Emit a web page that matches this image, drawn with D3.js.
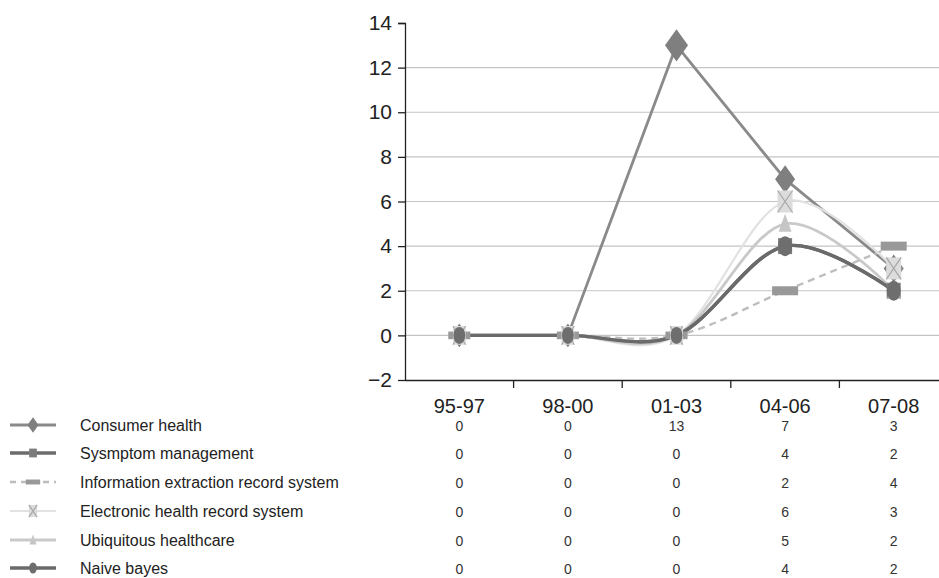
<!DOCTYPE html>
<html><head><meta charset="utf-8">
<script src="https://cdn.jsdelivr.net/npm/d3@7"></script>
<style>body{margin:0;background:#fff}svg{display:block}text{font-family:"Liberation Sans",Arial,sans-serif}</style>
</head><body>
<svg id="c" width="939" height="578"></svg>
<script>
const categories = ["95-97","98-00","01-03","04-06","07-08"];
const seriesNames = ["Consumer health","Sysmptom management","Information extraction record system","Electronic health record system","Ubiquitous healthcare","Naive bayes"];
const consumerHealth = [0,0,13,7,3];
const symptomManagement = [0,0,0,4,2];
const infoExtraction = [0,0,0,2,4];
const electronicHealth = [0,0,0,6,3];
const ubiquitousHealthcare = [0,0,0,5,2];
const naiveBayes = [0,0,0,4,2];
const yTicks = [-2,0,2,4,6,8,10,12,14];

const seriesValues = [consumerHealth,symptomManagement,infoExtraction,electronicHealth,ubiquitousHealthcare,naiveBayes];
const styles = [
  {color:"#8a8a8a", width:2.8, dash:null, curve:d3.curveLinear, marker:"diamond", mfill:"#7f7f7f"},
  {color:"#6c6c6c", width:3.4, dash:null, curve:d3.curveCatmullRom.alpha(0), marker:"square", mfill:"#7c7c7c"},
  {color:"#bdbdbd", width:2.4, dash:"7,5", curve:d3.curveCatmullRom.alpha(0), marker:"rect", mfill:"#999"},
  {color:"#e2e2e2", width:2.2, dash:null, curve:d3.curveCatmullRom.alpha(0), marker:"xbox", mfill:"#dcdcdc"},
  {color:"#c9c9c9", width:2.8, dash:null, curve:d3.curveCatmullRom.alpha(0), marker:"triangle", mfill:"#c6c6c6"},
  {color:"#6a6a6a", width:3.4, dash:null, curve:d3.curveCatmullRom.alpha(0), marker:"circle", mfill:"#6e6e6e"}
];

const svg = d3.select("#c");
const x = d3.scaleBand().domain(categories).range([405, 948]);
const y = d3.scaleLinear().domain([-2,14]).range([380, 23]);

// gridlines
svg.append("g").selectAll("line").data(yTicks.filter(t=>t>-2 && t<14)).join("line")
  .attr("x1",405).attr("x2",939).attr("y1",d=>y(d)).attr("y2",d=>y(d))
  .attr("stroke","#c4c4c4").attr("stroke-width",1.2);

// y axis
const ya = svg.append("g").attr("transform","translate(405,0)")
  .call(d3.axisLeft(y).tickValues(yTicks).tickSize(7).tickPadding(6).tickFormat(d=>d<0?"\u2212"+Math.abs(d):d));
ya.select(".domain").attr("stroke","#222").attr("stroke-width",1.3).attr("d","M-7,23.5H0.5V380.5");
ya.selectAll(".tick line").attr("stroke","#222").attr("stroke-width",1.3);
ya.selectAll(".tick text").attr("font-size",21).attr("fill","#222").attr("font-family","Liberation Sans, Arial, sans-serif");

// x axis
const xa = svg.append("g").attr("transform","translate(0,380)");
xa.append("line").attr("x1",405).attr("x2",939).attr("y1",0.5).attr("y2",0.5).attr("stroke","#222").attr("stroke-width",1.3);
xa.selectAll("line.t").data(categories.slice(1)).join("line").attr("class","t")
  .attr("x1",d=>x(d)).attr("x2",d=>x(d)).attr("y1",0).attr("y2",8).attr("stroke","#222").attr("stroke-width",1.3);
xa.selectAll("text").data(categories).join("text")
  .attr("x",d=>x(d)+x.bandwidth()/2).attr("y",33).attr("text-anchor","middle")
  .attr("font-size",20).attr("fill","#222").text(d=>d);

function drawMarker(g, type, cx, cy, s, st){
  const k = s;
  if(type==="diamond"){
    g.append("path").attr("d",`M${cx},${cy-14*k}L${cx+10*k},${cy}L${cx},${cy+14*k}L${cx-10*k},${cy}Z`).attr("fill",st.mfill);
  } else if(type==="square"){
    g.append("rect").attr("x",cx-7*k).attr("y",cy-8*k).attr("width",14*k).attr("height",16*k).attr("fill",st.mfill);
  } else if(type==="rect"){
    g.append("rect").attr("x",cx-13*k).attr("y",cy-4.5*k).attr("width",26*k).attr("height",9*k).attr("fill",st.mfill);
  } else if(type==="xbox"){
    g.append("rect").attr("x",cx-7.5*k).attr("y",cy-11*k).attr("width",15*k).attr("height",22*k).attr("fill",st.mfill);
    g.append("path").attr("d",`M${cx-7.5*k},${cy-11*k}L${cx+7.5*k},${cy+11*k}M${cx+7.5*k},${cy-11*k}L${cx-7.5*k},${cy+11*k}`).attr("stroke","#a8a8a8").attr("stroke-width",1.2);
  } else if(type==="triangle"){
    g.append("path").attr("d",`M${cx},${cy-10*k}L${cx+6.5*k},${cy+8*k}L${cx-6.5*k},${cy+8*k}Z`).attr("fill",st.mfill);
  } else if(type==="circle"){
    g.append("ellipse").attr("cx",cx).attr("cy",cy).attr("rx",7*k).attr("ry",10*k).attr("fill",st.mfill);
  }
}

// lines
const cx = d=>x(d)+x.bandwidth()/2;
seriesValues.forEach((vals,i)=>{
  const st = styles[i];
  const line = d3.line().x((d,j)=>cx(categories[j])).y(d=>y(d)).curve(st.curve);
  svg.append("path").attr("d",line(vals)).attr("fill","none").attr("stroke",st.color)
    .attr("stroke-width",st.width).attr("stroke-dasharray",st.dash).attr("stroke-linejoin","round");
});
// markers
seriesValues.forEach((vals,i)=>{
  const st = styles[i];
  const g = svg.append("g");
  vals.forEach((v,j)=>{
    const s = (i===0 && j===2) ? 1.15 : (j<3 ? 0.85 : 1);
    drawMarker(g, st.marker, cx(categories[j]), y(v), s, st);
  });
});

// legend + data table
const rowY = [425,453,482,511,540,568];
seriesNames.forEach((name,i)=>{
  const st = styles[i];
  const g = svg.append("g");
  const yy = rowY[i];
  g.append("line").attr("x1",10).attr("x2",56).attr("y1",yy).attr("y2",yy)
    .attr("stroke",st.color).attr("stroke-width",st.width).attr("stroke-dasharray",st.dash?"6,5":null);
  drawMarker(g, st.marker, 33, yy, 0.55, st);
  g.append("text").attr("x",80).attr("y",yy+6).attr("font-size",16).attr("fill","#222").text(name);
  seriesValues[i].forEach((v,j)=>{
    g.append("text").attr("x",cx(categories[j])).attr("y",yy+6).attr("text-anchor","middle")
      .attr("font-size",14).attr("fill","#333").text(v);
  });
});
</script>
</body></html>
